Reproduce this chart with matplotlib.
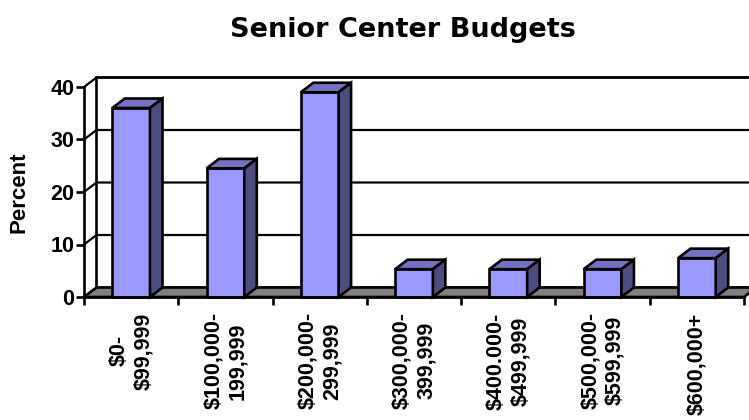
import matplotlib.pyplot as plt
import numpy as np
from matplotlib.patches import Polygon

# --- data ---
categories = ['$0-\n$99,999', '$100,000-\n199,999', '$200,000-\n299,999',
              '$300,000-\n399,999', '$400.000-\n$499,999', '$500,000-\n$599,999',
              '$600,000+']
percent = [36, 24.5, 39, 5.3, 5.3, 5.3, 7.4]
yticks = [0, 10, 20, 30, 40]

# --- figure ---
fig = plt.figure(figsize=(7.49, 4.20), dpi=100)
ax = fig.add_axes([84 / 749, 123 / 420, 660 / 749, 210 / 420])
n = len(categories)
ax.set_xlim(-0.5, n - 0.5)
ax.set_ylim(0, 40)

# depth of the "3d" box, in data units (about 12 px right, 9.5 px up)
dx = 12.5 / 94.3
dy = 9.5 / 5.25
lw = 1.9
glw = 1.6
x0, x1 = -0.5, n - 0.5

# back wall + left wall
ax.add_patch(Polygon([(x0 + dx, dy), (x1 + dx + 1, dy), (x1 + dx + 1, 40 + dy), (x0 + dx, 40 + dy)],
                     closed=True, fc='white', ec='black', lw=lw, zorder=1, clip_on=False))
for v in yticks:
    ax.plot([x0, x0 + dx, x1 + dx + 1], [v, v + dy, v + dy], color='black', lw=glw,
            zorder=2, clip_on=False, solid_capstyle='butt')

# floor
ax.add_patch(Polygon([(x0, 0), (x1, 0), (x1 + dx, dy), (x0 + dx, dy)], closed=True,
                     fc='#808080', ec='black', lw=lw, zorder=3, clip_on=False))

# bars
x = np.arange(n)
w = 0.4
ax.bar(x, percent, w, color='#9999FF', edgecolor='black', lw=lw, zorder=5, clip_on=False)
for xi, v in zip(x, percent):
    l, r = xi - w / 2, xi + w / 2
    ax.add_patch(Polygon([(l, v), (r, v), (r + dx, v + dy), (l + dx, v + dy)], closed=True,
                         fc='#7373BF', ec='black', lw=lw, zorder=5, clip_on=False))
    ax.add_patch(Polygon([(r, 0), (r, v), (r + dx, v + dy), (r + dx, dy)], closed=True,
                         fc='#4D4D80', ec='black', lw=lw, zorder=5, clip_on=False))

# axes
for s in ['top', 'right']:
    ax.spines[s].set_visible(False)
for s in ['left', 'bottom']:
    ax.spines[s].set_linewidth(lw)
    ax.spines[s].set_zorder(6)
ax.set_yticks(yticks)
ax.set_yticklabels([str(t) for t in yticks], fontsize=15.5, fontweight='bold',
                   family='Liberation Sans')
ax.tick_params(axis='y', length=6, width=lw, pad=1)

ax.set_xticks(np.arange(-0.5, n, 1))
ax.set_xticklabels([])
ax.tick_params(axis='x', which='major', length=6, width=lw)
ax.set_xticks(x, minor=True)
ax.set_xticklabels(categories, minor=True, rotation=90, fontsize=15.5, fontweight='bold',
                   family='Liberation Sans', va='top', ha='center', multialignment='center',
                   linespacing=1.2)
ax.tick_params(axis='x', which='minor', length=0, pad=11)

fig.text(18.5 / 749, 1 - 192 / 420, 'Percent', rotation=90, fontsize=16, fontweight='bold',
         family='Liberation Sans', ha='center', va='center')

fig.text(403 / 749, 1 - 30 / 420, 'Senior Center Budgets', fontsize=19.5, fontweight='bold',
         family='DejaVu Sans', ha='center', va='center')

fig.savefig('out.png', dpi=100)
